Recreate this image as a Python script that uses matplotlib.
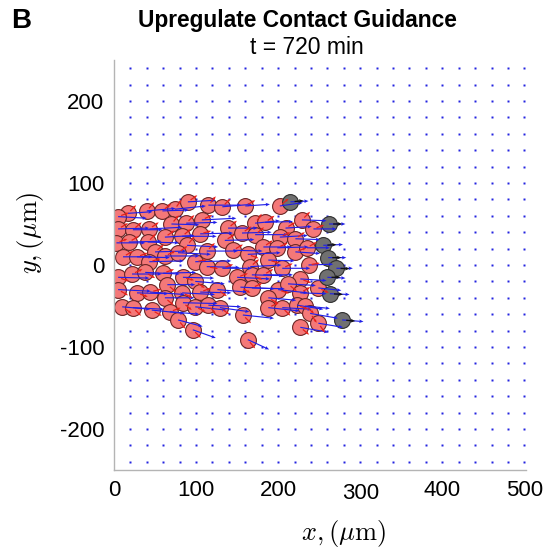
import numpy as np
import matplotlib
matplotlib.use("Agg")
import matplotlib.pyplot as plt
from matplotlib.transforms import ScaledTranslation

plt.rcParams["font.family"] = ["Liberation Sans", "DejaVu Sans"]
plt.rcParams["mathtext.fontset"] = "cm"
plt.rcParams["axes.unicode_minus"] = False

# Cell centres (um) at t = 720 min
cell_x = [17, 40, 59, 74, 90, 115, 132, 160, 202, 5,
          5, 23, 43, 70, 88, 107, 139, 172, 184, 209, 229, 243, 156,
          3, 18, 41, 62, 83, 105, 89, 135, 172, 202, 221,
          11, 28, 50, 62, 78, 99, 113, 145, 163, 182, 199, 221, 235, 43, 113, 132, 166, 188, 205, 237,
          5, 22, 38, 60, 84, 99, 65, 150, 168, 182, 227,
          5, 28, 44, 62, 83, 105, 126, 154, 168, 200, 212, 227, 249,
          10, 23, 46, 68, 84, 99, 115, 129, 188, 188, 205, 223, 233, 239, 157,
          78, 96, 227, 249, 163]
cell_y = [63, 66, 66, 68, 77, 73, 71, 72, 72, 59,
          44, 43, 44, 50, 51, 55, 45, 51, 52, 45, 55, 44, 39,
          27, 28, 28, 34, 35, 38, 24, 30, 37, 34, 32,
          10, 10, 16, 11, 15, 4, 17, 18, 13, 22, 21, 16, 21, 4, -2, -4, -2, 6, -4, 0,
          -15, -11, -9, -10, -15, -20, -24, -15, -12, -12, -17,
          -30, -34, -33, -40, -34, -33, -30, -27, -28, -30, -23, -34, -28,
          -51, -52, -55, -57, -46, -51, -49, -52, -40, -52, -52, -49, -50, -59, -61,
          -67, -79, -76, -71, -91]

# Cell velocity (um per frame)
vel_u = [30, 35, 32, 38, 34, 40, 36, 30, 28, 35,
         38, 36, 40, 34, 38, 42, 36, 30, 34, 32, 30, 28, 36,
         35, 40, 38, 36, 42, 40, 38, 36, 40, 34, 30,
         36, 40, 38, 42, 40, 44, 38, 36, 40, 34, 38, 30, 28, 42, 40, 36, 38, 32, 34, 30,
         38, 36, 42, 40, 38, 36, 34, 40, 38, 36, 32,
         40, 38, 42, 36, 40, 38, 36, 42, 40, 36, 34, 32, 28,
         34, 38, 40, 36, 42, 38, 40, 36, 34, 38, 36, 32, 30, 34, 38,
         30, 28, 34, 30, 26]
vel_v = [2, 3, 1, 4, 2, 0, 3, 2, 4, -2,
         1, 0, 2, -1, 1, 2, 0, 3, 1, 2, -1, 0, 1,
         0, 1, -1, 2, 0, 1, -2, 1, 0, 2, -1,
         0, -1, 1, 0, -2, 1, 0, -1, 2, 0, 1, -2, 0, 1, -1, 0, 2, -1, 0, 1,
         -1, 0, -2, 1, -1, -3, 0, -2, -1, 0, -2,
         -2, -1, -3, 0, -2, -1, -3, -2, -1, -4, -2, -1, -3,
         -3, -2, -4, -3, -1, -4, -2, -5, -3, -4, -2, -5, -3, -6, -4,
         -8, -10, -6, -5, -12]

# Cell polarity direction (degrees)
polarity_deg = [45, 50, 40, 55, 35, 50, 45, 30, 40, 20,
                30, 40, 35, 50, 45, 25, 40, 55, 35, 30, 45, 20, 35,
                20, 30, 45, 35, 40, 15, 50, 30, 40, 25, 35,
                30, 20, 40, 25, 35, 10, 45, 30, -20, 35, 25, 20, 30, 15, -10, 20, 40, -15, 25, 10,
                -20, 25, -30, 20, -15, -35, -40, 20, -25, 30, -20,
                -30, -20, 15, -40, -25, 20, -35, -30, 25, -20, -40, 30, -25,
                -35, -45, -30, 20, -40, -25, -50, -35, -30, 25, -45, -20, -40, -55, -45,
                -50, -45, -40, -55, -50]

# Leader cells at the invasion front
leader_x = [215, 262, 255, 261, 271, 260, 263, 278]
leader_y = [77, 50, 24, 9, -4, -15, -35, -67]
leader_u = [22, 20, 24, 22, 20, 22, 24, 26]
leader_v = [1, 0, 1, 0, 0, -1, -1, -2]
leader_deg = [5, 0, 3, 0, -2, 0, -3, -5]

# Fibre lattice
grid_step = 20
grid_x = np.arange(20, 501, grid_step)
grid_y = np.arange(-240, 241, grid_step)

W, H = 547, 548
fig = plt.figure(figsize=(W / 100, H / 100), dpi=100)
ax = fig.add_axes([114 / W, 1 - 470 / H, 412 / W, 410 / H])
ax.set_xlim(0, 502)
ax.set_ylim(-250, 250)

gx, gy = np.meshgrid(grid_x, grid_y)
ax.plot(gx.ravel(), gy.ravel(), ls="none", marker="s", ms=1.9,
        mfc="#2424e0", mec="none", zorder=1)

cx = np.array(cell_x, float)
cy = np.array(cell_y, float)
ax.scatter(cx, cy, s=130, facecolor="#f47878", edgecolor="#6a2626",
           linewidths=0.8, zorder=2)
lx = np.array(leader_x, float)
ly = np.array(leader_y, float)
ax.scatter(lx, ly, s=130, facecolor="#707070", edgecolor="#2e2e2e",
           linewidths=0.8, zorder=2)

# velocity arrows
ax.quiver(np.r_[cx, lx], np.r_[cy, ly], np.r_[vel_u, leader_u], np.r_[vel_v, leader_v],
          angles="xy", scale_units="xy", scale=1, units="xy", width=1.4,
          headwidth=3.2, headlength=3.8, headaxislength=3.2, color="#1f1fe8", zorder=3)

# polarity markers
r_in, p_len = 4.0, 10.0
th = np.deg2rad(polarity_deg)
ax.quiver(cx + r_in * np.cos(th), cy + r_in * np.sin(th),
          p_len * np.cos(th), p_len * np.sin(th),
          angles="xy", scale_units="xy", scale=1, units="xy", width=1.5,
          headwidth=2.5, headlength=3, headaxislength=2.5, color="#e8201a", zorder=4)
tl = np.deg2rad(leader_deg)
ax.quiver(lx + 5 * np.cos(tl), ly + 5 * np.sin(tl),
          11 * np.cos(tl), 11 * np.sin(tl),
          angles="xy", scale_units="xy", scale=1, units="xy", width=1.6,
          headwidth=3, headlength=3.5, headaxislength=3, color="#111111", zorder=4)

for s in ["top", "right"]:
    ax.spines[s].set_visible(False)
for s in ["left", "bottom"]:
    ax.spines[s].set_color("#b4b4b4")
    ax.spines[s].set_linewidth(1.0)

x_ticks = [0, 100, 200, 300, 400, 500]
y_ticks = [-200, -100, 0, 100, 200]
ax.set_xticks(x_ticks)
ax.set_yticks(y_ticks)
ax.tick_params(axis="both", length=0, labelsize=16)
ax.tick_params(axis="x", pad=7)
ax.tick_params(axis="y", pad=7)
# the "300" label sits a little lower than its neighbours
lbl300 = ax.get_xticklabels()[3]
lbl300.set_transform(lbl300.get_transform() + ScaledTranslation(0, -2.5 / 72, fig.dpi_scale_trans))

ax.set_xlabel(r"$x,(\mu\mathrm{m})$", fontsize=19)
ax.xaxis.set_label_coords(0.557, -0.118)
ax.set_ylabel(r"$y,(\mu\mathrm{m})$", fontsize=19)
ax.yaxis.set_label_coords(-0.165, 0.58)

fig.text(297 / W, 1 - 21 / H, "Upregulate Contact Guidance", ha="center", va="center",
         fontsize=16.4, fontweight="bold")
fig.text(307 / W, 1 - 47 / H, "t = 720 min", ha="center", va="center", fontsize=16.5)
fig.text(21 / W, 1 - 21 / H, "B", ha="center", va="center", fontsize=20, fontweight="bold")

fig.savefig("out.png", dpi=100)
